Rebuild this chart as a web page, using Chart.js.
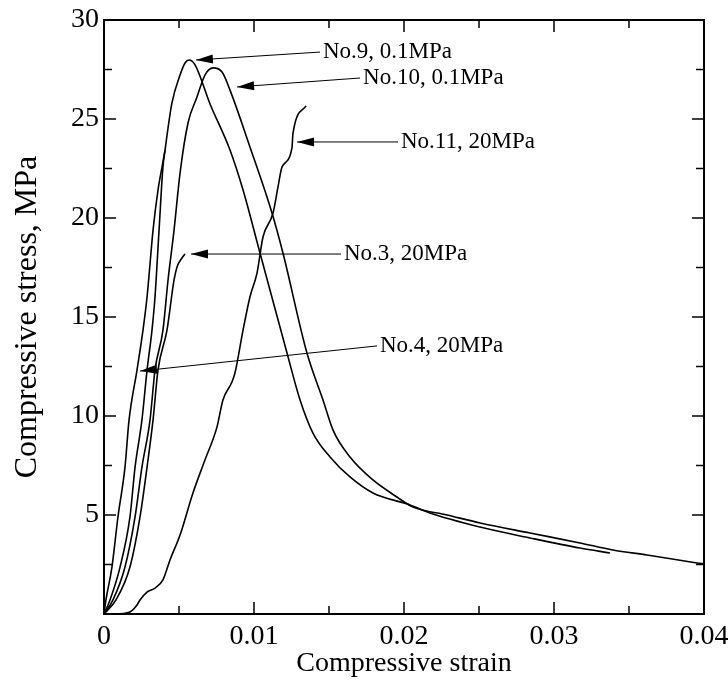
<!DOCTYPE html>
<html><head><meta charset="utf-8">
<script src="https://cdn.jsdelivr.net/npm/chart.js@4.4.0/dist/chart.umd.min.js"></script>
<style>html,body{margin:0;padding:0;background:#fff}#wrap{width:728px;height:693px}</style>
</head><body><div id="wrap"><canvas id="c" width="728" height="693"></canvas></div>
<script>
// ---- data (strain, stress MPa) ----
const no9X = [0,0.0004,0.00107,0.00173,0.00207,0.00253,0.00287,0.0032,0.0034,0.00367,0.00393,0.00407,0.00453,0.00507,0.0054,0.00567,0.00607,0.00707,0.0084,0.00927,0.0104,0.0122,0.01307,0.01393,0.01507,0.0164,0.01793,0.0204,0.02173,0.02507,0.0284,0.03173,0.03373];
const no9Y = [0,0.71,2.37,4.9,7.42,9.8,12.32,14.34,16.01,19.39,22.58,23.43,25.81,27.22,27.83,27.98,27.73,25.76,23.43,21.41,18.23,13.18,10.81,9.14,7.93,6.92,6.11,5.51,5.1,4.39,3.84,3.33,3.08];
const no10X = [0,0.0006,0.0014,0.00207,0.00253,0.00307,0.0034,0.00393,0.00427,0.00467,0.00507,0.0056,0.0062,0.00673,0.00727,0.00787,0.0084,0.00973,0.0112,0.01193,0.01353,0.0146,0.01527,0.0164,0.01793,0.01953,0.0206,0.02287,0.02507,0.0284,0.03173,0.03393,0.0362,0.03953,0.04];
const no10Y = [0,0.71,2.37,4.9,7.42,9.8,12.32,14.34,16.87,19.39,22.27,24.8,26.11,27.22,27.58,27.37,26.46,23.59,20.25,18.23,13.18,10.81,9.29,7.93,6.77,5.91,5.4,5.0,4.6,4.09,3.59,3.23,2.98,2.58,2.53];
const no11X = [0,0.00073,0.00173,0.0022,0.0024,0.00287,0.0034,0.00393,0.0044,0.00507,0.00593,0.00673,0.00753,0.00793,0.00853,0.00873,0.00927,0.00973,0.0102,0.0106,0.01127,0.0116,0.01187,0.01253,0.0126,0.01347];
const no11Y = [0,0.0,0.1,0.45,0.71,1.11,1.31,1.72,2.73,3.99,6.11,7.78,9.44,10.81,11.72,12.17,14.34,16.01,17.22,19.04,20.25,21.57,22.58,23.54,24.29,25.66];
const no3X = [0,0.0008,0.00173,0.0024,0.00287,0.00327,0.0036,0.0042,0.00467,0.00487,0.0052,0.0054];
const no3Y = [0,0.71,2.37,4.9,7.42,9.8,12.32,14.34,16.87,17.53,17.98,18.18];
const no4X = [0,0.00013,0.00053,0.00093,0.0014,0.00167,0.0022,0.0026,0.00287,0.00327,0.0036,0.00387,0.00407];
const no4Y = [0,0.71,2.37,4.9,7.42,9.8,12.32,14.34,16.01,19.39,21.41,22.58,23.43];

const xTickValues = [0,0.01,0.02,0.03,0.04];
const xTickLabels = ['0','0.01','0.02','0.03','0.04'];
const yTickValues = [0,5,10,15,20,25,30];
const yTickLabels = ['','5','10','15','20','25','30'];

// labels with arrows (data coordinates)
const annoText  = ['No.9, 0.1MPa','No.10, 0.1MPa','No.11, 20MPa','No.3, 20MPa','No.4, 20MPa'];
const annoTipX  = [0.00613,0.00887,0.01287,0.0058,0.0024];
const annoTipY  = [27.98,26.62,23.84,18.18,12.27];
const annoTailX = [0.0144,0.01707,0.0196,0.0158,0.0182];
const annoTailY = [28.38,27.07,23.84,18.18,13.54];

function pts(xs, ys){ return xs.map((v,i)=>({x:v,y:ys[i]})); }

Chart.defaults.font.family = '"Liberation Serif","Times New Roman",serif';
Chart.defaults.color = '#000';

const framePlugin = {
  id:'frame',
  afterDatasetsDraw(chart){
    const {ctx, chartArea:a, scales:{x,y}} = chart;
    ctx.save();
    ctx.strokeStyle='#000';
    ctx.lineWidth=1.5;
    const line=(x1,y1,x2,y2)=>{ctx.beginPath();ctx.moveTo(x1,y1);ctx.lineTo(x2,y2);ctx.stroke();};
    for(let i=0;i<=8;i++){
      const v=i*0.005, px=x.getPixelForValue(v), L=(i%2===0)?12:8;
      line(px,a.bottom,px,a.bottom-L); line(px,a.top,px,a.top+L);
    }
    for(let i=0;i<=12;i++){
      const v=i*2.5, py=y.getPixelForValue(v), L=(i%2===0)?12:8;
      line(a.left,py,a.left+L,py); line(a.right,py,a.right-L,py);
    }
    ctx.lineWidth=2;
    ctx.strokeRect(a.left,a.top,a.right-a.left,a.bottom-a.top);
    // annotations
    ctx.lineWidth=1;
    ctx.fillStyle='#000';
    ctx.font='23px "Liberation Serif"';
    ctx.textBaseline='middle';
    ctx.textAlign='left';
    for(let i=0;i<annoText.length;i++){
      const tx=x.getPixelForValue(annoTipX[i]), ty=y.getPixelForValue(annoTipY[i]);
      const ex=x.getPixelForValue(annoTailX[i]), ey=y.getPixelForValue(annoTailY[i]);
      line(tx,ty,ex,ey);
      const ang=Math.atan2(ey-ty,ex-tx), HL=17, HW=4.5;
      const bx=tx+HL*Math.cos(ang), by=ty+HL*Math.sin(ang);
      ctx.beginPath();
      ctx.moveTo(tx,ty);
      ctx.lineTo(bx-HW*Math.sin(ang), by+HW*Math.cos(ang));
      ctx.lineTo(bx+HW*Math.sin(ang), by-HW*Math.cos(ang));
      ctx.closePath(); ctx.fill();
      ctx.fillText(annoText[i], ex+3, ey);
    }
    ctx.restore();
  }
};

const ds = (label, xs, ys) => ({label, data:pts(xs,ys), showLine:true, borderColor:'#000', borderWidth:1.6, pointRadius:0, fill:false, cubicInterpolationMode:'monotone'});

new Chart(document.getElementById('c'), {
  type:'scatter',
  data:{datasets:[ds('No.9, 0.1MPa',no9X,no9Y), ds('No.10, 0.1MPa',no10X,no10Y), ds('No.11, 20MPa',no11X,no11Y), ds('No.3, 20MPa',no3X,no3Y), ds('No.4, 20MPa',no4X,no4Y)]},
  options:{
    responsive:false, animation:false, devicePixelRatio:1,
    layout:{padding:{top:20,right:24,left:0,bottom:0}},
    plugins:{legend:{display:false}, tooltip:{enabled:false}},
    scales:{
      x:{type:'linear', min:0, max:0.04,
        grid:{display:false, drawTicks:false}, border:{display:false},
        afterBuildTicks:(s)=>{s.ticks=xTickValues.map(v=>({value:v}));},
        ticks:{padding:6, font:{size:28}, color:'#000', maxRotation:0, autoSkip:false,
          callback:(v)=>{const i=xTickValues.indexOf(v); return i>=0?xTickLabels[i]:'';}},
        title:{display:true, text:'Compressive strain', font:{size:28}, color:'#000', padding:{top:0,bottom:13}},
        afterFit:(s)=>{s.height=79; s.paddingLeft=0; s.paddingRight=0;}
      },
      y:{type:'linear', min:0, max:30,
        grid:{display:false, drawTicks:false}, border:{display:false},
        afterBuildTicks:(s)=>{s.ticks=yTickValues.map(v=>({value:v}));},
        ticks:{padding:5, font:{size:28}, color:'#000', autoSkip:false,
          callback:(v)=>{const i=yTickValues.indexOf(v); return i>=0?yTickLabels[i]:'';}},
        title:{display:true, text:'Compressive stress, MPa', font:{size:32}, color:'#000', padding:{top:8,bottom:0}},
        afterFit:(s)=>{s.width=104; s.paddingTop=0; s.paddingBottom=0;}
      }
    }
  },
  plugins:[framePlugin]
});
</script></body></html>
